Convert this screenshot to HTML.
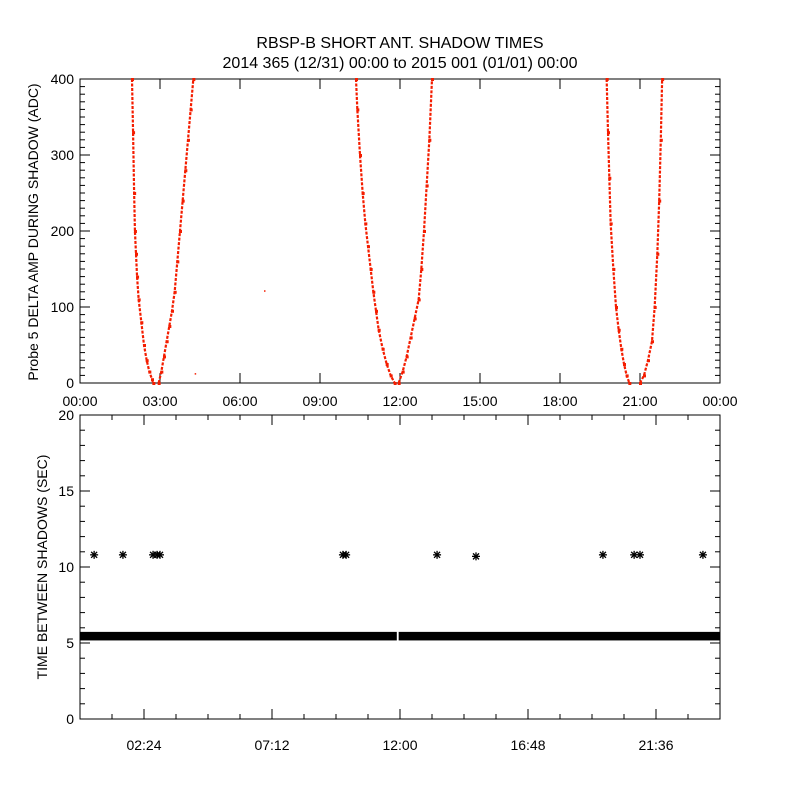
<!DOCTYPE html>
<html><head><meta charset="utf-8"><style>
body{margin:0;background:#fff}
svg text{font-family:"Liberation Sans",sans-serif;fill:#000}
</style></head><body>
<svg id="c" width="800" height="800">
<rect width="800" height="800" fill="#fff"/>
<text x="400" y="48" text-anchor="middle" font-size="16">RBSP-B SHORT ANT. SHADOW TIMES</text>
<text x="400" y="68" text-anchor="middle" font-size="16">2014 365 (12/31) 00:00 to 2015 001 (01/01) 00:00</text>
<g id="topPanel"></g>
<g id="botPanel"></g>
</svg>
<script>
// Top panel data: shadow branches (hours, ADC)
const s1LeftH=[1.95,1.99,2.03,2.06,2.1,2.14,2.2,2.3,2.4,2.5,2.6,2.7,2.75];
const s1LeftV=[400,330,250,200,170,140,110,80,50,30,15,5,0];
const s1RightH=[2.95,3.05,3.15,3.25,3.35,3.45,3.55,3.65,3.75,3.85,3.95,4.05,4.15,4.25];
const s1RightV=[0,15,35,55,75,95,120,160,200,240,280,320,360,400];
const s2LeftH=[10.35,10.4,10.5,10.6,10.7,10.8,10.9,11.0,11.1,11.2,11.35,11.5,11.65,11.8];
const s2LeftV=[400,360,300,250,210,180,150,120,95,70,45,25,10,0];
const s2RightH=[11.95,12.1,12.25,12.4,12.55,12.7,12.8,12.9,13.0,13.1,13.2];
const s2RightV=[0,15,35,60,85,110,150,200,260,320,400];
const s3LeftH=[19.75,19.8,19.85,19.9,20.0,20.1,20.2,20.3,20.4,20.5,20.6];
const s3LeftV=[400,330,270,210,150,100,70,45,25,10,0];
const s3RightH=[21.0,21.15,21.3,21.45,21.55,21.65,21.72,21.78,21.83];
const s3RightV=[0,10,30,55,100,170,240,320,400];
const strayH=[6.9,4.3];
const strayV=[122,13];
const topXTicks=["00:00","03:00","06:00","09:00","12:00","15:00","18:00","21:00","00:00"];
const topYTicks=[0,100,200,300,400];
// Bottom panel data
const bandStartH=[0,11.95];
const bandEndH=[11.88,24];
const bandLo=[5.3,5.3];
const bandHi=[5.6,5.6];
const starH=[0.53,1.61,2.74,2.89,3.0,9.86,9.98,13.39,14.85,19.61,20.78,21.0,23.36];
const starV=[10.8,10.8,10.8,10.8,10.8,10.8,10.8,10.8,10.7,10.8,10.8,10.8,10.8];
const botXLabels=["02:24","07:12","12:00","16:48","21:36"];
const botYTicks=[0,5,10,15,20];

const NS="http://www.w3.org/2000/svg";
function mk(p,t,a){const e=document.createElementNS(NS,t);for(const k in a)e.setAttribute(k,a[k]);p.appendChild(e);return e;}
const L=80,R=720;
const tx=h=>L+h/24*(R-L);
const ty=v=>383-v/400*304;
const by=v=>719-v/20*304;

const topG=document.getElementById('topPanel'),botG=document.getElementById('botPanel');
let f=mk(topG,'rect',{x:L,y:79,width:R-L,height:304,fill:'none',stroke:'#000','stroke-width':1});


for(let v=0;v<=400;v+=10){const y=ty(v);const len=v%100===0?10:5;
 mk(topG,'line',{x1:L,y1:y,x2:L+len,y2:y,stroke:'#000'});mk(topG,'line',{x1:R,y1:y,x2:R-len,y2:y,stroke:'#000'});}
topYTicks.forEach(v=>{const t=mk(topG,'text',{x:L-6,y:ty(v)+5,'text-anchor':'end','font-size':14});t.textContent=v;
 
 });
topXTicks.forEach((s,i)=>{const x=tx(i*3);
 mk(topG,'line',{x1:x,y1:383,x2:x,y2:373,stroke:'#000'});mk(topG,'line',{x1:x,y1:79,x2:x,y2:89,stroke:'#000'});
 const t=mk(topG,'text',{x:x,y:406,'text-anchor':'middle','font-size':14});t.textContent=s;
 
 });
let yt=mk(topG,'text',{x:0,y:0,'text-anchor':'middle','font-size':14,transform:'translate(38,232) rotate(-90)'});
yt.textContent='Probe 5 DELTA AMP DURING SHADOW (ADC)';


const branches=[[s1LeftH,s1LeftV],[s1RightH,s1RightV],[s2LeftH,s2LeftV],[s2RightH,s2RightV],[s3LeftH,s3LeftV],[s3RightH,s3RightV]];
branches.forEach(([H,V],bi)=>{
 const pl=mk(topG,'polyline',{points:H.map((h,i)=>tx(h)+','+ty(V[i])).join(' '),fill:'none',stroke:'#f41d00','stroke-width':2.2,'stroke-dasharray':'3 1.5'});
 
 
 H.forEach((h,i)=>{const d=mk(topG,'rect',{x:tx(h)-1,y:ty(V[i])-1,width:3,height:3,fill:'#f41d00'});
  
  });
});
strayH.forEach((h,i)=>{const d=mk(topG,'rect',{x:tx(h),y:ty(strayV[i]),width:1.5,height:1.5,fill:'#f41d00'});
 
 });

f=mk(botG,'rect',{x:L,y:415,width:R-L,height:304,fill:'none',stroke:'#000'});


for(let v=0;v<=20;v+=1){const y=by(v);const len=v%5===0?10:5;
 mk(botG,'line',{x1:L,y1:y,x2:L+len,y2:y,stroke:'#000'});mk(botG,'line',{x1:R,y1:y,x2:R-len,y2:y,stroke:'#000'});}
botYTicks.forEach(v=>{const t=mk(botG,'text',{x:L-6,y:by(v)+5,'text-anchor':'end','font-size':14});t.textContent=v;
 
 });
for(let h=1.2;h<24;h+=1.2){const x=tx(h);const q=(h-2.4)/4.8;const maj=Math.abs(q-Math.round(q))<0.01;const len=maj?10:5;
 mk(botG,'line',{x1:x,y1:719,x2:x,y2:719-len,stroke:'#000'});mk(botG,'line',{x1:x,y1:415,x2:x,y2:415+len,stroke:'#000'});}
botXLabels.forEach((s,i)=>{const t=mk(botG,'text',{x:tx(2.4+i*4.8),y:750,'text-anchor':'middle','font-size':14});t.textContent=s;
 
 });
yt=mk(botG,'text',{x:0,y:0,'text-anchor':'middle','font-size':14,transform:'translate(47,567) rotate(-90)'});
yt.textContent='TIME BETWEEN SHADOWS (SEC)';


bandStartH.forEach((h,i)=>{const r=mk(botG,'rect',{x:tx(h),y:by(bandHi[i])-2,width:tx(bandEndH[i])-tx(h),height:by(bandLo[i])-by(bandHi[i])+4,fill:'#000'});
 
 });
starH.forEach((h,i)=>{const x=tx(h),y=by(starV[i]);
 const g=mk(botG,'g',{stroke:'#000','stroke-width':1.3});
 
 
 mk(g,'line',{x1:x-4,y1:y,x2:x+4,y2:y});mk(g,'line',{x1:x,y1:y-4,x2:x,y2:y+4});
 mk(g,'line',{x1:x-3,y1:y-3,x2:x+3,y2:y+3});mk(g,'line',{x1:x-3,y1:y+3,x2:x+3,y2:y-3});});
</script>
</body></html>
